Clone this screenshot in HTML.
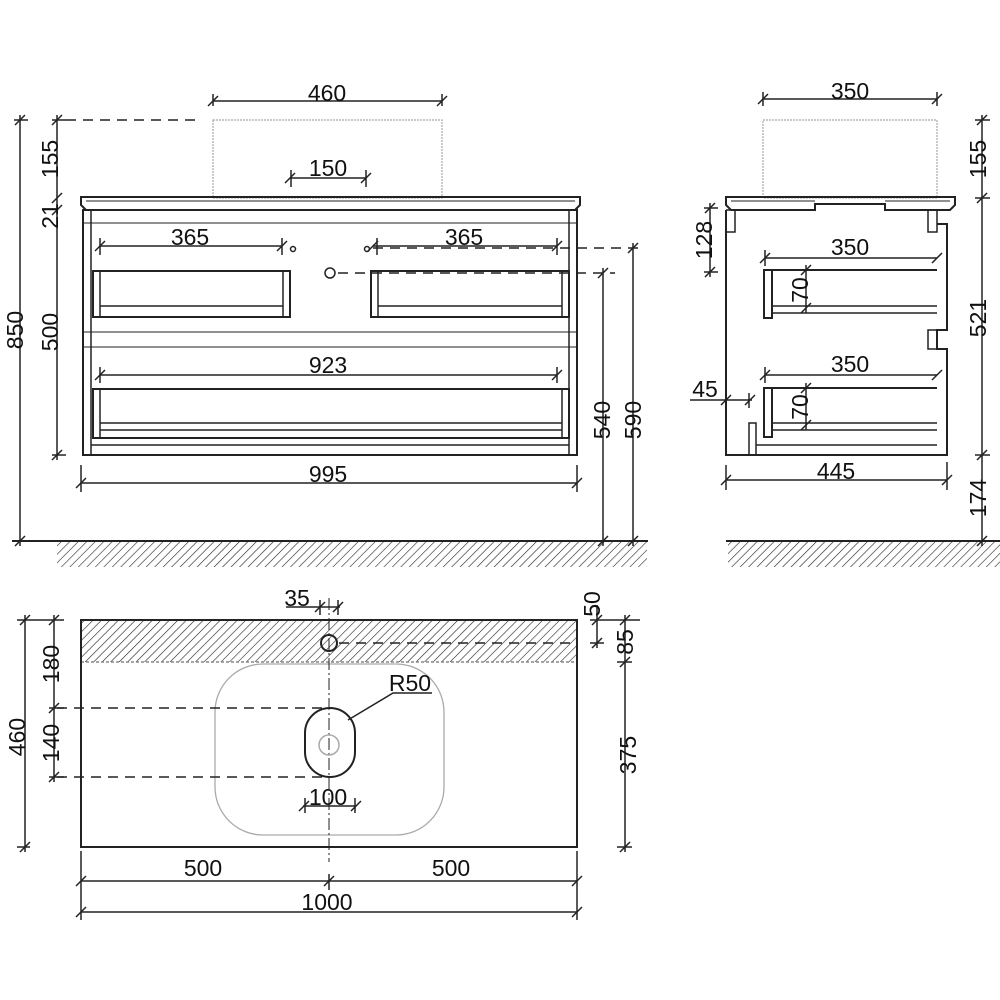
<!DOCTYPE html>
<html><head><meta charset="utf-8"><style>
html,body{margin:0;padding:0;background:#fff}
svg{display:block}
text{font-family:"Liberation Sans",sans-serif;font-size:23px;fill:#111;text-anchor:middle}
</style></head><body>
<svg width="1000" height="1000" viewBox="0 0 1000 1000" xmlns="http://www.w3.org/2000/svg">
<defs>
<pattern id="h" width="6" height="6" patternUnits="userSpaceOnUse" patternTransform="rotate(45)">
<line x1="0" y1="0" x2="0" y2="6" stroke="#222" stroke-width="1.2"/>
</pattern>
</defs>
<g stroke="#222" stroke-width="1.5" fill="none">
<!-- ===== FRONT VIEW ===== -->
<line x1="20" y1="115" x2="20" y2="546"/>
<path d="M15 125L25 115M15 546L25 536"/>
<line x1="14" y1="120" x2="28" y2="120"/><line x1="12" y1="541" x2="28" y2="541"/>
<line x1="57" y1="115" x2="57" y2="460"/>
<path d="M52 125L62 115M52 203L62 193M52 215L62 205M52 460L62 450"/>
<line x1="52" y1="120" x2="66" y2="120"/><line x1="52" y1="455" x2="66" y2="455"/>
<line x1="66" y1="120" x2="200" y2="120" stroke-dasharray="10,7"/>
<rect x="213" y="120" width="229" height="78" stroke="#aaa" stroke-width="1.2" stroke-dasharray="2,1"/>
<line x1="213" y1="94" x2="213" y2="106"/><line x1="442" y1="94" x2="442" y2="106"/>
<line x1="213" y1="101" x2="442" y2="101"/>
<path d="M208 106L218 96M437 106L447 96"/>
<line x1="290" y1="178" x2="366" y2="178"/>
<path d="M285 183L295 173M361 183L371 173"/>
<line x1="291" y1="170" x2="291" y2="187"/><line x1="366" y1="170" x2="366" y2="187"/>
<path d="M81 197H580V205L575 210H86L81 205Z" stroke-width="2"/>
<line x1="86" y1="201" x2="575" y2="201" stroke-width="1"/>
<rect x="83" y="210" width="494" height="245" stroke-width="2"/>
<line x1="91" y1="210" x2="91" y2="455"/><line x1="569" y1="210" x2="569" y2="455"/>
<line x1="83" y1="223" x2="577" y2="223" stroke-width="1"/>
<line x1="83" y1="332" x2="577" y2="332" stroke-width="1"/>
<line x1="83" y1="347" x2="577" y2="347" stroke-width="1"/>
<line x1="91" y1="445" x2="569" y2="445"/>
<line x1="100" y1="246" x2="282" y2="246"/>
<path d="M95 251L105 241M277 251L287 241"/>
<line x1="100" y1="238" x2="100" y2="255"/><line x1="282" y1="238" x2="282" y2="255"/>
<line x1="373" y1="246" x2="557" y2="246"/>
<path d="M368 251L378 241M552 251L562 241"/>
<line x1="377" y1="238" x2="377" y2="255"/><line x1="557" y1="238" x2="557" y2="255"/>
<circle cx="293" cy="249" r="2.5"/><circle cx="367" cy="249" r="2.5"/>
<line x1="373" y1="248" x2="645" y2="248" stroke-dasharray="10,7"/>
<circle cx="330" cy="273" r="5"/>
<line x1="338" y1="273" x2="615" y2="273" stroke-dasharray="10,7"/>
<line x1="633" y1="243" x2="633" y2="546"/><path d="M628 253L638 243M628 546L638 536"/>
<line x1="603" y1="268" x2="603" y2="546"/><path d="M598 278L608 268M598 546L608 536"/>
<rect x="93" y="271" width="197" height="46" stroke-width="2"/>
<rect x="93" y="271" width="7" height="46"/><rect x="283" y="271" width="7" height="46"/>
<line x1="100" y1="306" x2="283" y2="306"/>
<rect x="371" y="271" width="198" height="46" stroke-width="2"/>
<rect x="371" y="271" width="7" height="46"/><rect x="562" y="271" width="7" height="46"/>
<line x1="378" y1="306" x2="562" y2="306"/>
<line x1="100" y1="375" x2="557" y2="375"/>
<path d="M95 380L105 370M552 380L562 370"/>
<line x1="100" y1="367" x2="100" y2="383"/><line x1="557" y1="367" x2="557" y2="383"/>
<rect x="93" y="389" width="476" height="49" stroke-width="2"/>
<rect x="93" y="389" width="7" height="49"/><rect x="562" y="389" width="7" height="49"/>
<line x1="100" y1="423" x2="562" y2="423"/>
<line x1="100" y1="430" x2="562" y2="430"/>
<line x1="81" y1="483" x2="577" y2="483"/>
<line x1="81" y1="465" x2="81" y2="492"/><line x1="577" y1="465" x2="577" y2="492"/>
<path d="M76 488L86 478M572 488L582 478"/>
<line x1="12" y1="541" x2="648" y2="541" stroke-width="2"/>
<rect x="57" y="542" width="590" height="25" fill="url(#h)" stroke="none"/>

<!-- ===== SIDE VIEW ===== -->
<line x1="763" y1="99" x2="937" y2="99"/>
<line x1="763" y1="92" x2="763" y2="106"/><line x1="937" y1="92" x2="937" y2="106"/>
<path d="M758 104L768 94M932 104L942 94"/>
<rect x="763" y="120" width="174" height="78" stroke="#aaa" stroke-width="1.2" stroke-dasharray="2,1"/>
<path d="M726 197H955V205L950 210H885V204H815V210H731L726 205Z" stroke-width="2"/>
<line x1="731" y1="201" x2="815" y2="201" stroke-width="1"/><line x1="885" y1="201" x2="950" y2="201" stroke-width="1"/>
<path d="M726 210V455H947V349H937V330H947V224H937" stroke-width="2"/>
<path d="M726 210H735V232H726M937 210V232H928V210"/>
<path d="M937 330V349H928V330Z"/>
<line x1="710" y1="203" x2="710" y2="277"/>
<path d="M705 213L715 203M705 277L715 267"/>
<line x1="704" y1="208" x2="718" y2="208"/><line x1="704" y1="272" x2="718" y2="272"/>
<line x1="982" y1="115" x2="982" y2="546"/>
<path d="M977 125L987 115M977 203L987 193M977 460L987 450M977 546L987 536"/>
<line x1="975" y1="120" x2="990" y2="120"/><line x1="975" y1="198" x2="990" y2="198"/><line x1="975" y1="455" x2="990" y2="455"/>
<line x1="765" y1="258" x2="937" y2="258"/>
<path d="M760 263L770 253M932 263L942 253"/><line x1="765" y1="250" x2="765" y2="266"/>
<rect x="764" y="270" width="8" height="48" stroke-width="2"/>
<line x1="772" y1="270" x2="937" y2="270" stroke-width="2"/>
<line x1="772" y1="306" x2="937" y2="306"/><line x1="772" y1="313" x2="937" y2="313"/>
<line x1="806" y1="265" x2="806" y2="313"/><path d="M801 275L811 265M801 313L811 303"/>
<line x1="765" y1="375" x2="937" y2="375"/>
<path d="M760 380L770 370M932 380L942 370"/><line x1="765" y1="367" x2="765" y2="383"/>
<rect x="764" y="388" width="8" height="49" stroke-width="2"/>
<line x1="772" y1="388" x2="937" y2="388" stroke-width="2"/>
<line x1="772" y1="423" x2="937" y2="423"/><line x1="772" y1="430" x2="937" y2="430"/>
<line x1="806" y1="383" x2="806" y2="430"/><path d="M801 393L811 383M801 430L811 420"/>
<rect x="749" y="423" width="7" height="32"/>
<line x1="756" y1="445" x2="937" y2="445"/>
<line x1="690" y1="400" x2="752" y2="400"/>
<path d="M721 405L731 395M745 405L755 395"/><line x1="749" y1="393" x2="749" y2="408"/>
<line x1="726" y1="480" x2="947" y2="480"/>
<line x1="726" y1="465" x2="726" y2="490"/><line x1="947" y1="462" x2="947" y2="490"/>
<path d="M721 485L731 475M942 485L952 475"/>
<line x1="726" y1="541" x2="1000" y2="541" stroke-width="2"/>
<rect x="728" y="542" width="272" height="25" fill="url(#h)" stroke="none"/>

<!-- ===== TOP VIEW ===== -->
<rect x="81" y="620" width="496" height="42" fill="url(#h)" stroke="none"/>
<line x1="81" y1="662" x2="577" y2="662" stroke="#888" stroke-dasharray="3,2"/>
<rect x="81" y="620" width="496" height="227" stroke-width="2"/>
<rect x="215" y="664" width="229" height="171" rx="48" stroke="#aaa" stroke-width="1.3"/>
<circle cx="329" cy="643" r="8" stroke-width="2"/>
<line x1="339" y1="643" x2="577" y2="643" stroke-dasharray="10,7"/>
<line x1="329" y1="598" x2="329" y2="862" stroke-width="1" stroke-dasharray="12,3,2,3"/>
<rect x="305" y="708" width="50" height="69" rx="25" stroke-width="2"/>
<circle cx="329" cy="745" r="10" stroke="#aaa"/>
<line x1="57" y1="708" x2="325" y2="708" stroke-dasharray="10,7"/>
<line x1="57" y1="777" x2="325" y2="777" stroke-dasharray="10,7"/>
<path d="M348 720L393 693H432"/>
<line x1="25" y1="615" x2="25" y2="852"/>
<path d="M20 625L30 615M20 852L30 842"/>
<line x1="17" y1="620" x2="64" y2="620"/><line x1="17" y1="847" x2="30" y2="847"/>
<line x1="54" y1="615" x2="54" y2="782"/>
<path d="M49 625L59 615M49 713L59 703M49 782L59 772"/>
<line x1="49" y1="708" x2="64" y2="708"/><line x1="49" y1="777" x2="64" y2="777"/>
<line x1="597" y1="605" x2="597" y2="648"/>
<path d="M592 625L602 615M592 648L602 638"/>
<line x1="590" y1="620" x2="640" y2="620"/><line x1="590" y1="643" x2="604" y2="643"/>
<line x1="625" y1="615" x2="625" y2="852"/>
<path d="M620 625L630 615M620 667L630 657M620 852L630 842"/>
<line x1="617" y1="662" x2="632" y2="662"/><line x1="617" y1="847" x2="632" y2="847"/>
<line x1="286" y1="607" x2="340" y2="607"/>
<path d="M315 612L325 602M333 612L343 602"/>
<line x1="320" y1="600" x2="320" y2="615"/><line x1="338" y1="600" x2="338" y2="615"/>
<line x1="303" y1="806" x2="356" y2="806"/>
<path d="M299 811L309 801M351 811L361 801"/>
<line x1="305" y1="798" x2="305" y2="813"/><line x1="355" y1="798" x2="355" y2="813"/>
<line x1="81" y1="851" x2="81" y2="920"/><line x1="577" y1="851" x2="577" y2="920"/>
<line x1="81" y1="881" x2="577" y2="881"/>
<path d="M76 886L86 876M324 886L334 876M572 886L582 876"/>
<line x1="329" y1="874" x2="329" y2="890"/>
<line x1="81" y1="912" x2="577" y2="912"/>
<path d="M76 917L86 907M572 917L582 907"/>
</g>
<g>
<text x="327" y="101">460</text>
<text x="328" y="176">150</text>
<text x="190" y="245">365</text>
<text x="464" y="245">365</text>
<text x="328" y="373">923</text>
<text x="328" y="482">995</text>
<text transform="translate(23,330) rotate(-90)">850</text>
<text transform="translate(58,159) rotate(-90)">155</text>
<text transform="translate(58,216) rotate(-90)">21</text>
<text transform="translate(58,332) rotate(-90)">500</text>
<text transform="translate(610,420) rotate(-90)">540</text>
<text transform="translate(641,420) rotate(-90)">590</text>
<text x="850" y="99">350</text>
<text x="850" y="255">350</text>
<text x="850" y="372">350</text>
<text x="836" y="479">445</text>
<text x="705" y="397">45</text>
<text transform="translate(712,240) rotate(-90)">128</text>
<text transform="translate(808,290) rotate(-90)">70</text>
<text transform="translate(808,407) rotate(-90)">70</text>
<text transform="translate(986,159) rotate(-90)">155</text>
<text transform="translate(986,318) rotate(-90)">521</text>
<text transform="translate(986,498) rotate(-90)">174</text>
<text x="297" y="606">35</text>
<text x="410" y="691">R50</text>
<text x="328" y="805">100</text>
<text x="203" y="876">500</text>
<text x="451" y="876">500</text>
<text x="327" y="910">1000</text>
<text transform="translate(25,737) rotate(-90)">460</text>
<text transform="translate(59,664) rotate(-90)">180</text>
<text transform="translate(59,743) rotate(-90)">140</text>
<text transform="translate(600,604) rotate(-90)">50</text>
<text transform="translate(633,642) rotate(-90)">85</text>
<text transform="translate(636,755) rotate(-90)">375</text>
</g>
</svg>
</body></html>
